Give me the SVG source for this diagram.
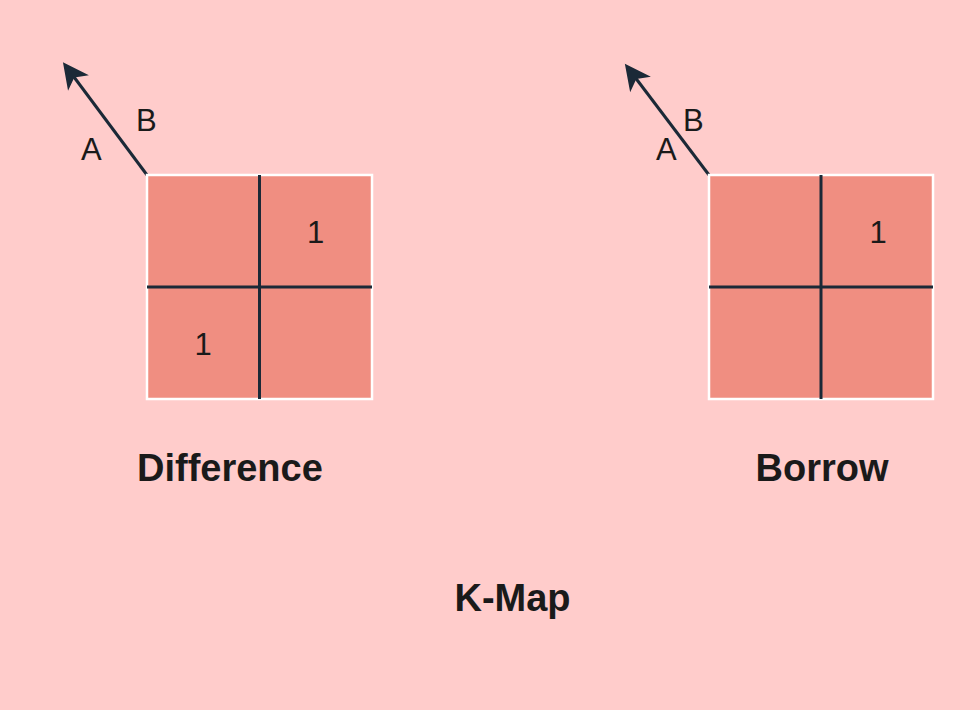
<svg xmlns="http://www.w3.org/2000/svg" width="980" height="710" viewBox="0 0 980 710">
<style>
.cell{fill:#F08E81;stroke:#FFFFFF;stroke-width:2.5}
.grid{stroke:#1B2937;stroke-width:3;fill:none}
.axis{stroke:#1B2937;stroke-width:3;fill:none}
.lbl{font-family:"Liberation Sans",Arial,sans-serif;font-size:31px;fill:#1a1a1a}
.one{font-family:"Liberation Sans",Arial,sans-serif;font-size:31px;fill:#1a1a1a;text-anchor:middle}
.title{font-family:"Liberation Sans",Arial,sans-serif;font-size:38px;font-weight:bold;fill:#1a1a1a}
</style>
<defs>
<marker id="arr" markerUnits="userSpaceOnUse" orient="auto" overflow="visible" refX="0" refY="0" markerWidth="1" markerHeight="1">
<path d="M16,0 L-10,-13 L-3,0 L-10,13 Z" fill="#1B2937"/>
</marker>
</defs>
<rect width="980" height="710" fill="#FFCCCB"/>
<g id="connectors">
<line class="axis" x1="147" y1="175" x2="72.5" y2="75" marker-end="url(#arr)"/>
<line class="axis" x1="709" y1="175" x2="634.5" y2="76.5" marker-end="url(#arr)"/>
</g>
<g id="kmap-difference">
<rect class="cell" x="147" y="175" width="225" height="224"/>
<line class="grid" x1="259.5" y1="175" x2="259.5" y2="399"/>
<line class="grid" x1="147" y1="287" x2="372" y2="287"/>
<text class="lbl" x="136" y="131">B</text>
<text class="lbl" x="81" y="160">A</text>
<text class="one" x="315.5" y="243">1</text>
<text class="one" x="203" y="355">1</text>
<text class="title" x="137" y="481">Difference</text>
</g>
<g id="kmap-borrow">
<rect class="cell" x="709" y="175" width="224" height="224"/>
<line class="grid" x1="821" y1="175" x2="821" y2="399"/>
<line class="grid" x1="709" y1="287" x2="933" y2="287"/>
<text class="lbl" x="683" y="131">B</text>
<text class="lbl" x="656" y="160">A</text>
<text class="one" x="878" y="243">1</text>
<text class="title" x="822" y="481" text-anchor="middle">Borrow</text>
</g>
<g id="caption">
<text class="title" x="512.5" y="611" text-anchor="middle">K-Map</text>
</g>
</svg>
